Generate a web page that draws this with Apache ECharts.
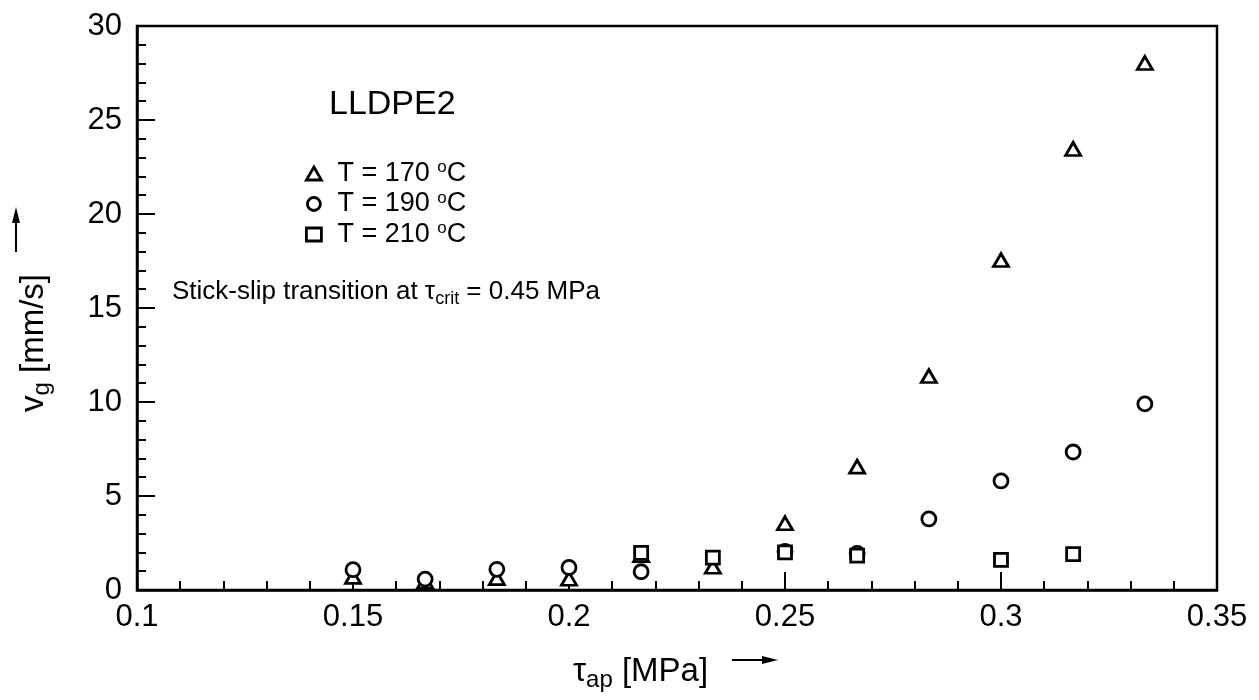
<!DOCTYPE html>
<html>
<head>
<meta charset="utf-8">
<script src="https://cdn.jsdelivr.net/npm/echarts@6/dist/echarts.min.js"></script>
<style>
  html, body { margin: 0; padding: 0; background: #fff; }
  #chart { width: 1259px; height: 700px; }
</style>
</head>
<body>
<div id="chart"></div>
<script>
// shear stress values (MPa)
var tauAp = [0.15, 0.1667, 0.1833, 0.2, 0.2167, 0.2333, 0.25, 0.2667, 0.2833, 0.3, 0.3167, 0.3333]
// slip velocity vg (mm/s) per temperature, null = not visible
var vg170 = [0.7, 0.45, 0.63, 0.6, 1.85, 1.24, 3.55, 6.56, 11.38, 17.55, 23.46, 28.03]
var vg190 = [1.08, 0.58, 1.1, 1.2, 0.97, null, 2.05, 1.95, 3.78, 5.8, 7.34, 9.9]
var vg210 = [null, null, null, null, 1.97, 1.72, 2.0, 1.83, null, 1.6, 1.91, null]
var seriesNames = ['T = 170 °C', 'T = 190 °C', 'T = 210 °C']
var legendLabels = ['{gap|}T = 170 {sup|o}C', '{gap|}T = 190 {sup|o}C', '{gap|}T = 210 {sup|o}C']

var FONT = 'Liberation Sans, Arial, sans-serif'

function pairs(ys) {
    var out = []
    for (var i = 0; i < tauAp.length; i++) {
        if (ys[i] != null) out.push([tauAp[i], ys[i]])
    }
    return out
}

var markStyle = { color: '#fff', borderColor: '#000', borderWidth: 2.8, opacity: 1 }

var chart = echarts.init(document.getElementById('chart'))
chart.setOption({
    backgroundColor: '#fff',
    animation: false,
    grid: { left: 137, right: 42, top: 26, bottom: 110, show: true, borderColor: '#000', borderWidth: 2.5, backgroundColor: 'transparent' },
    xAxis: {
        type: 'value', min: 0.1, max: 0.35, interval: 0.05,
        axisLine: { lineStyle: { color: '#000', width: 2.5 } },
        axisTick: { inside: true, length: 18, lineStyle: { color: '#000', width: 2 } },
        minorTick: { show: true, splitNumber: 5, length: 9, lineStyle: { color: '#000', width: 2 } },
        splitLine: { show: false },
        axisLabel: { color: '#000', fontSize: 31, fontFamily: FONT, margin: 12 }
    },
    yAxis: {
        type: 'value', min: 0, max: 30, interval: 5,
        axisLine: { lineStyle: { color: '#000', width: 2.5 } },
        axisTick: { inside: true, length: 18, lineStyle: { color: '#000', width: 2 } },
        minorTick: { show: true, splitNumber: 5, length: 9, lineStyle: { color: '#000', width: 2 } },
        splitLine: { show: false },
        axisLabel: { color: '#000', fontSize: 31, fontFamily: FONT, margin: 15 }
    },
    legend: {
        orient: 'vertical', left: 300, top: 154, padding: 5,
        itemWidth: 15, itemHeight: 13, itemGap: 1.5,
        itemStyle: { color: '#fff', borderColor: '#000', borderWidth: 2.8, opacity: 1 },
        data: seriesNames,
        formatter: function (name) { return legendLabels[seriesNames.indexOf(name)] },
        textStyle: {
            color: '#000', fontSize: 27, fontFamily: FONT, lineHeight: 29,
            rich: {
                gap: { width: 11 },
                sup: { fontSize: 17, fontFamily: FONT, color: '#000', verticalAlign: 'top', lineHeight: 17 }
            }
        }
    },
    series: [
        { name: seriesNames[0], type: 'scatter', symbol: 'triangle', symbolSize: [15, 13], itemStyle: markStyle, data: pairs(vg170) },
        { name: seriesNames[1], type: 'scatter', symbol: 'circle', symbolSize: 14, itemStyle: markStyle, data: pairs(vg190) },
        { name: seriesNames[2], type: 'scatter', symbol: 'rect', symbolSize: 13, itemStyle: markStyle, data: pairs(vg210) }
    ],
    graphic: [
        { type: 'text', left: 329, top: 88, style: { text: 'LLDPE2', fill: '#000', font: '34px ' + FONT } },
        {
            type: 'text', x: 172, y: 292,
            style: {
                text: 'Stick-slip transition at τ{sub|crit} = 0.45 MPa',
                fill: '#000', fontSize: 26, fontFamily: FONT, verticalAlign: 'middle',
                rich: { sub: { fontSize: 18, fontFamily: FONT, fill: '#000', padding: [14, 0, 0, 0] } }
            }
        },
        {
            type: 'text', x: 573, y: 672,
            style: {
                text: 'τ{sub|ap} [MPa]',
                fill: '#000', fontSize: 33, fontFamily: FONT, verticalAlign: 'middle',
                rich: { sub: { fontSize: 24, fontFamily: FONT, fill: '#000', padding: [16, 0, 0, 0] } }
            }
        },
        {
            type: 'text', x: 34, y: 343, rotation: Math.PI / 2,
            style: {
                text: 'v{sub|g} [mm/s]',
                fill: '#000', fontSize: 33, fontFamily: FONT, align: 'center', verticalAlign: 'middle',
                rich: { sub: { fontSize: 24, fontFamily: FONT, fill: '#000', padding: [16, 0, 0, 0] } }
            }
        },
        // axis arrows
        { type: 'line', shape: { x1: 16, y1: 252, x2: 16, y2: 218 }, style: { stroke: '#000', lineWidth: 2 } },
        { type: 'polygon', shape: { points: [[16, 207], [12, 223], [20, 223]] }, style: { fill: '#000' } },
        { type: 'line', shape: { x1: 732, y1: 660, x2: 766, y2: 660 }, style: { stroke: '#000', lineWidth: 2 } },
        { type: 'polygon', shape: { points: [[778, 660], [762, 656], [762, 664]] }, style: { fill: '#000' } }
    ]
})
</script>
</body>
</html>
